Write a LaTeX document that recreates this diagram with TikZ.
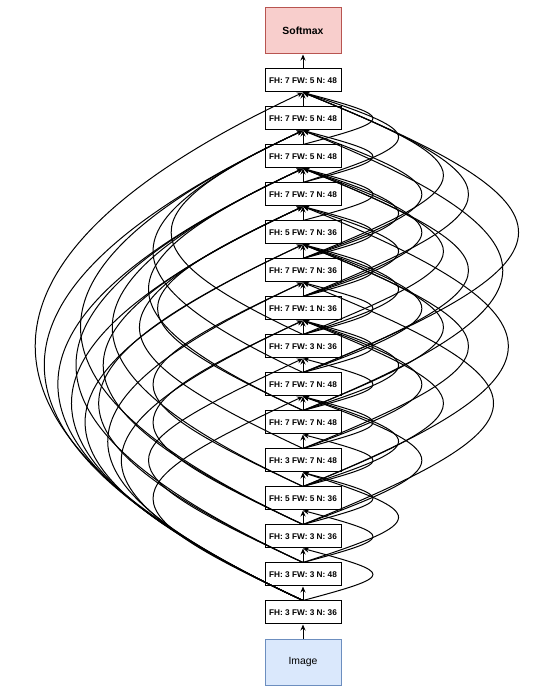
\documentclass[tikz,border=0pt]{standalone}
\usepackage{fontspec}
\setmainfont{Liberation Sans}
\usepackage{tikz}
\usetikzlibrary{arrows.meta}
\usepackage{xcolor}
\definecolor{softfill}{HTML}{F8CECC}
\definecolor{softline}{HTML}{B85450}
\definecolor{imgfill}{HTML}{DAE8FC}
\definecolor{imgline}{HTML}{6C8EBF}

\begin{document}
\begin{tikzpicture}[x=0.75pt, y=0.75pt,
  layer/.style={draw, line width=0.75pt, minimum width=57pt, minimum height=17.25pt,
    inner sep=0pt, font=\bfseries\fontsize{6.2}{7}\selectfont},
  conn/.style={line width=0.75pt, -{Stealth[length=4.5pt, width=3.8pt]}},
  rloop/.style={conn, out=#1, in=-#1},
  lloop/.style={conn, out=155, in=-155}]
  \useasboundingbox (0,0) rectangle (537,699);

  % Nodes
  \node[draw=imgline, fill=imgfill, line width=0.75pt, minimum width=57pt, minimum height=34.5pt,
    font=\fontsize{7.8}{9}\selectfont] (img) at (303, 36.5) {Image};
  \node[layer] (l1) at (303, 86.5) {FH: 3 FW: 3 N: 36};
  \node[layer] (l2) at (303, 124.5) {FH: 3 FW: 3 N: 48};
  \node[layer] (l3) at (303, 162.5) {FH: 3 FW: 3 N: 36};
  \node[layer] (l4) at (303, 200.5) {FH: 5 FW: 5 N: 36};
  \node[layer] (l5) at (303, 238.5) {FH: 3 FW: 7 N: 48};
  \node[layer] (l6) at (303, 276.5) {FH: 7 FW: 7 N: 48};
  \node[layer] (l7) at (303, 314.5) {FH: 7 FW: 7 N: 48};
  \node[layer] (l8) at (303, 352.5) {FH: 7 FW: 3 N: 36};
  \node[layer] (l9) at (303, 390.5) {FH: 7 FW: 1 N: 36};
  \node[layer] (l10) at (303, 428.5) {FH: 7 FW: 7 N: 36};
  \node[layer] (l11) at (303, 466.5) {FH: 5 FW: 7 N: 36};
  \node[layer] (l12) at (303, 504.5) {FH: 7 FW: 7 N: 48};
  \node[layer] (l13) at (303, 542.5) {FH: 7 FW: 5 N: 48};
  \node[layer] (l14) at (303, 580.5) {FH: 7 FW: 5 N: 48};
  \node[layer] (l15) at (303, 618.5) {FH: 7 FW: 5 N: 48};
  \node[draw=softline, fill=softfill, line width=0.75pt, minimum width=57pt, minimum height=34.5pt,
    font=\bfseries\fontsize{7.8}{9}\selectfont] (soft) at (303, 668) {Softmax};

  % Straight edges
  \draw[conn] (img) -- (l1);
  \draw[conn] (l1) -- (l2);
  \draw[conn] (l2) -- (l3);
  \draw[conn] (l3) -- (l4);
  \draw[conn] (l4) -- (l5);
  \draw[conn] (l5) -- (l6);
  \draw[conn] (l6) -- (l7);
  \draw[conn] (l7) -- (l8);
  \draw[conn] (l8) -- (l9);
  \draw[conn] (l9) -- (l10);
  \draw[conn] (l10) -- (l11);
  \draw[conn] (l11) -- (l12);
  \draw[conn] (l12) -- (l13);
  \draw[conn] (l13) -- (l14);
  \draw[conn] (l14) -- (l15);
  \draw[conn] (l15) -- (soft);

  % Skip edges, right side
  \draw[rloop=15, distance=72pt] (l1.north) to (l3.south);
  \draw[rloop=15, distance=72pt] (l2.north) to (l4.south);
  \draw[rloop=15, distance=72pt] (l3.north) to (l5.south);
  \draw[rloop=15, distance=72pt] (l4.north) to (l6.south);
  \draw[rloop=15, distance=72pt] (l5.north) to (l7.south);
  \draw[rloop=15, distance=72pt] (l6.north) to (l8.south);
  \draw[rloop=15, distance=72pt] (l7.north) to (l9.south);
  \draw[rloop=15, distance=72pt] (l8.north) to (l10.south);
  \draw[rloop=15, distance=72pt] (l9.north) to (l11.south);
  \draw[rloop=15, distance=72pt] (l10.north) to (l12.south);
  \draw[rloop=15, distance=72pt] (l11.north) to (l13.south);
  \draw[rloop=15, distance=72pt] (l12.north) to (l14.south);
  \draw[rloop=15, distance=72pt] (l13.north) to (l15.south);
  \draw[rloop=18, distance=100pt] (l2.north) to (l5.south);
  \draw[rloop=18, distance=100pt] (l4.north) to (l7.south);
  \draw[rloop=18, distance=100pt] (l6.north) to (l9.south);
  \draw[rloop=18, distance=100pt] (l8.north) to (l11.south);
  \draw[rloop=18, distance=100pt] (l9.north) to (l12.south);
  \draw[rloop=18, distance=100pt] (l10.north) to (l13.south);
  \draw[rloop=18, distance=100pt] (l12.north) to (l15.south);
  \draw[rloop=20, distance=126pt] (l3.north) to (l7.south);
  \draw[rloop=20, distance=126pt] (l5.north) to (l9.south);
  \draw[rloop=20, distance=126pt] (l7.north) to (l11.south);
  \draw[rloop=20, distance=126pt] (l9.north) to (l13.south);
  \draw[rloop=20, distance=126pt] (l10.north) to (l14.south);
  \draw[rloop=22, distance=151pt] (l4.north) to (l9.south);
  \draw[rloop=22, distance=151pt] (l6.north) to (l11.south);
  \draw[rloop=22, distance=151pt] (l8.north) to (l13.south);
  \draw[rloop=22, distance=151pt] (l10.north) to (l15.south);
  \draw[rloop=22, distance=178pt] (l5.north) to (l11.south);
  \draw[rloop=22, distance=178pt] (l7.north) to (l13.south);
  \draw[rloop=22, distance=178pt] (l9.north) to (l15.south);
  \draw[rloop=22, distance=205pt] (l3.north) to (l10.south);
  \draw[rloop=22, distance=221pt] (l4.north) to (l12.south);
  \draw[rloop=22, distance=215pt] (l6.north) to (l14.south);
  \draw[rloop=22, distance=232pt] (l7.north) to (l15.south);

  % Skip edges, left side
  \draw[lloop, distance=165pt] (l1.north) to (l7.south);
  \draw[lloop, distance=200pt] (l1.north) to (l9.south);
  \draw[lloop, distance=215pt] (l1.north) to (l10.south);
  \draw[lloop, distance=240pt] (l1.north) to (l11.south);
  \draw[lloop, distance=255pt] (l1.north) to (l12.south);
  \draw[lloop, distance=270pt] (l1.north) to (l13.south);
  \draw[lloop, distance=285pt] (l1.north) to (l14.south);
  \draw[lloop, distance=295pt] (l1.north) to (l15.south);
  \draw[lloop, distance=170pt] (l2.north) to (l8.south);
  \draw[lloop, distance=225pt] (l2.north) to (l11.south);
  \draw[lloop, distance=250pt] (l2.north) to (l13.south);
  \draw[lloop, distance=165pt] (l3.north) to (l9.south);
  \draw[lloop, distance=220pt] (l3.north) to (l12.south);
  \draw[lloop, distance=245pt] (l3.north) to (l14.south);
  \draw[lloop, distance=165pt] (l4.north) to (l10.south);
  \draw[lloop, distance=210pt] (l4.north) to (l13.south);
  \draw[lloop, distance=180pt] (l5.north) to (l12.south);
  \draw[lloop, distance=160pt] (l6.north) to (l12.south);
  \draw[lloop, distance=170pt] (l6.north) to (l13.south);
  \draw[lloop, distance=165pt] (l7.north) to (l14.south);
  \draw[lloop, distance=145pt] (l8.north) to (l14.south);
\end{tikzpicture}
\end{document}
